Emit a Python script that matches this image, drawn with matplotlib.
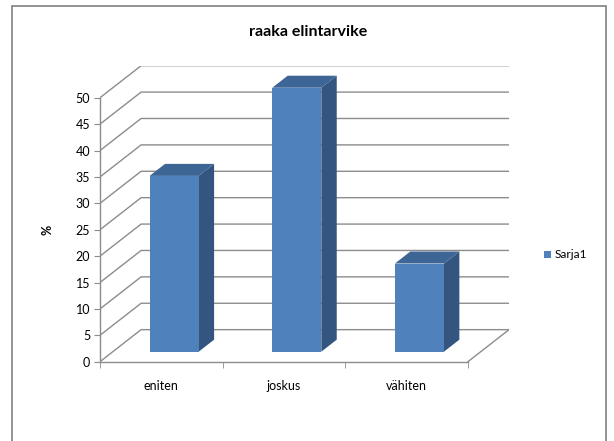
import numpy as np
import matplotlib
matplotlib.use("Agg")
from matplotlib import pyplot as plt
from matplotlib.patches import Polygon, Rectangle

categories = ["eniten", "joskus", "vähiten"]
values = [33.3, 50.0, 16.7]
series_name = "Sarja1"
title = "raaka elintarvike"
ylabel = "%"
yticks = np.arange(0, 51, 5)

plt.rcParams['font.family'] = ['Lato', 'DejaVu Sans']

W, H = 614, 441
fig = plt.figure(figsize=(W / 100, H / 100), dpi=100)

# outer chart frame (bottom edge falls outside the picture)
fig.patches.append(Rectangle((12 / W, -0.05), 594 / W, 1.05 - 6 / H,
                             transform=fig.transFigure, fill=False,
                             edgecolor="#8a8a8a", linewidth=1.3))

# depth offset of the back wall, in data units
dx, dy = 0.335, 6.07
ax = fig.add_axes([100 / W, (H - 361.7) / H, 409 / W, 296 / H])
ax.set_xlim(0, 3 + dx)
ax.set_ylim(0, 50 + dy)
ax.patch.set_visible(False)

grid_c = "#8c8c8c"
for v in yticks:
    ax.plot([0, dx, 3 + dx], [v, v + dy, v + dy], color=grid_c, lw=1.0, zorder=1)
ax.plot([3, 3 + dx], [0, dy], color=grid_c, lw=1.0, zorder=1)

# bars, placed in the middle of the depth
f0, d = 0.3125, 0.375
bw = 0.4
front_c, side_c, top_c = "#4f81bd", "#33557f", "#3d6596"
for i, v in enumerate(values):
    x0 = i + 0.5 - bw / 2 + f0 * dx
    x1 = x0 + bw
    y0 = f0 * dy
    y1 = v + f0 * dy
    ox, oy = d * dx, d * dy
    ax.add_patch(Polygon([(x1, y0), (x1 + ox, y0 + oy), (x1 + ox, y1 + oy), (x1, y1)],
                         closed=True, facecolor=side_c, edgecolor="none", zorder=3))
    ax.add_patch(Polygon([(x0, y1), (x1, y1), (x1 + ox, y1 + oy), (x0 + ox, y1 + oy)],
                         closed=True, facecolor=top_c, edgecolor="none", zorder=3))
    ax.add_patch(Rectangle((x0, y0), bw, v, facecolor=front_c, edgecolor="none", zorder=4))

for s in ["top", "right"]:
    ax.spines[s].set_visible(False)
ax.spines["left"].set_bounds(0, 50)
ax.spines["bottom"].set_bounds(0, 3)
for s in ["left", "bottom"]:
    ax.spines[s].set_color(grid_c)
    ax.spines[s].set_linewidth(1.0)

ax.set_yticks(yticks)
ax.set_yticklabels([str(t) for t in yticks])
ax.tick_params(axis="y", length=4, color=grid_c, labelsize=9, pad=3, labelcolor="black")
ax.set_xticks([0.5, 1.5, 2.5])
ax.set_xticklabels(categories)
ax.set_xticks([0, 1, 2, 3], minor=True)
ax.tick_params(axis="x", which="major", length=0, labelsize=9, pad=13.5, labelcolor="black")
ax.tick_params(axis="x", which="minor", length=4, color=grid_c)

fig.text(47 / W, 1 - 230 / H, ylabel, rotation=90, ha="center", va="center",
         fontsize=9, fontweight="bold")
fig.text(308 / W, 1 - 32 / H, title, ha="center", va="center", fontsize=11.5,
         fontweight="bold")

# legend
fig.patches.append(Rectangle((544 / W, 1 - 258 / H), 7 / W, 7 / H,
                             transform=fig.transFigure, facecolor=front_c,
                             edgecolor="none"))
fig.text(555 / W, 1 - 254.5 / H, series_name, ha="left", va="center", fontsize=8.5)

fig.savefig("out.png", dpi=100)
